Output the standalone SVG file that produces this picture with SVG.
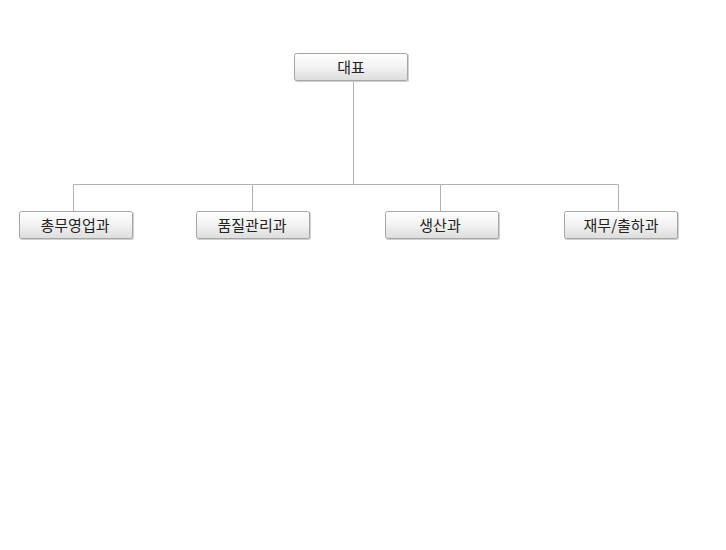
<svg xmlns="http://www.w3.org/2000/svg" width="726" height="550" viewBox="0 0 726 550">
<defs>
<linearGradient id="g" x1="0" y1="0" x2="0" y2="1">
<stop offset="0" stop-color="#ffffff"/>
<stop offset="0.5" stop-color="#f2f2f2"/>
<stop offset="1" stop-color="#dcdcdc"/>
</linearGradient>
</defs>
<style>
.box{fill:url(#g);stroke:#a6a6a6;stroke-width:1}
.sh{fill:#d0d0d0}
.lbl{font-family:"Noto Sans CJK KR","Noto Sans",sans-serif;font-size:15px;fill:#222;text-anchor:middle;dominant-baseline:central}
.c{stroke:#b3b3b3;stroke-width:1;fill:none}
</style>
<rect width="726" height="550" fill="#ffffff"/>
<g id="connectors">
<path class="c" d="M353.5 81V184.5M73.5 184.5H618.5M73.5 184.5V211M252.5 184.5V211M440.5 184.5V211M618.5 184.5V211"/>
</g>
<g id="n0">
<rect class="sh" x="295" y="54" width="114" height="28" rx="2"/>
<rect class="box" x="294.5" y="53.5" width="113" height="27" rx="2"/>
<text class="lbl" x="351" y="66.5">대표</text>
</g>
<g id="n1">
<rect class="sh" x="20" y="212" width="114" height="28" rx="2"/>
<rect class="box" x="19.5" y="211.5" width="113" height="27" rx="2"/>
<text class="lbl" x="75" y="224.5">총무영업과</text>
</g>
<g id="n2">
<rect class="sh" x="197" y="212" width="114" height="28" rx="2"/>
<rect class="box" x="196.5" y="211.5" width="113" height="27" rx="2"/>
<text class="lbl" x="252" y="224.5">품질관리과</text>
</g>
<g id="n3">
<rect class="sh" x="386" y="212" width="114" height="28" rx="2"/>
<rect class="box" x="385.5" y="211.5" width="113" height="27" rx="2"/>
<text class="lbl" x="440" y="224.5">생산과</text>
</g>
<g id="n4">
<rect class="sh" x="565" y="212" width="114" height="28" rx="2"/>
<rect class="box" x="564.5" y="211.5" width="113" height="27" rx="2"/>
<text class="lbl" x="621" y="224.5">재무/출하과</text>
</g>
</svg>
